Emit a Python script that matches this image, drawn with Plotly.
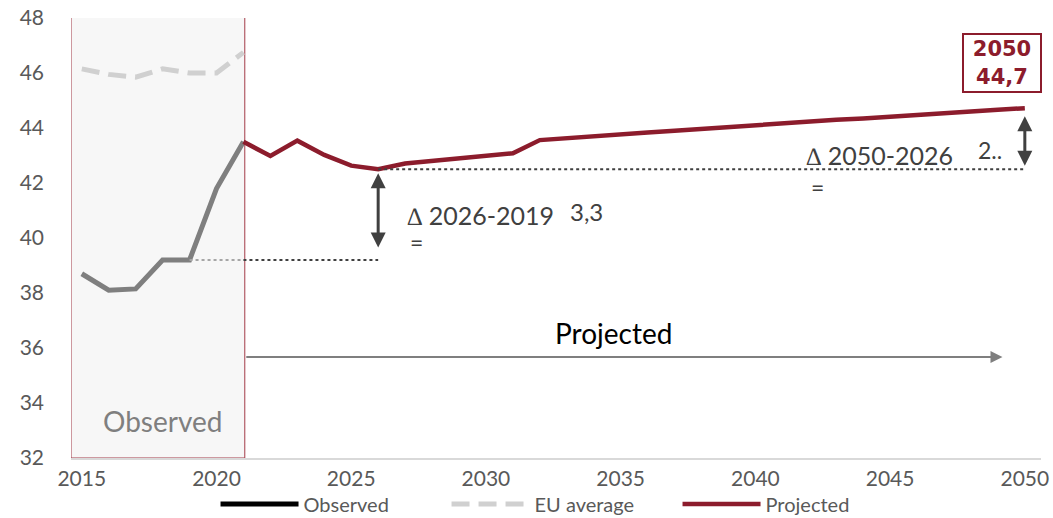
import plotly.graph_objects as go

# ---------------- data ----------------
obs_years = [2015, 2016, 2017, 2018, 2019, 2020, 2021]
obs_values = [38.7, 38.1, 38.15, 39.2, 39.2, 41.8, 43.5]
eu_values = [46.15, 45.95, 45.85, 46.15, 46.0, 46.0, 46.75]

proj_years = list(range(2021, 2051))
proj_values = [43.5, 42.98, 43.54, 43.02, 42.63, 42.5, 42.71, 42.81, 42.9, 42.98,
               43.08, 43.56, 43.64, 43.7, 43.78, 43.84, 43.9, 43.97, 44.05, 44.12,
               44.17, 44.23, 44.3, 44.35, 44.42, 44.5, 44.55, 44.6, 44.66, 44.72]

x_ticks = [2015, 2020, 2025, 2030, 2035, 2040, 2045, 2050]
y_ticks = [32, 34, 36, 38, 40, 42, 44, 46, 48]

delta1_label = "\u2206 2026-2019"
delta1_value = "3,3"
delta2_label = "\u2206 2050-2026"
delta2_value = "2.."
end_label = "<b>2050<br>44,7</b>"

RED = "#8c1c2c"
GREY = "#7f7f7f"
DARK = "#404040"
FONT = "Lato"

fig = go.Figure()

fig.add_trace(go.Scatter(x=obs_years, y=eu_values, mode="lines", name="EU average",
                         line=dict(color="#d0d0d0", width=5, dash="18px,9px")))
fig.add_trace(go.Scatter(x=obs_years, y=obs_values, mode="lines", name="Observed",
                         line=dict(color=GREY, width=5), showlegend=False))
fig.add_trace(go.Scatter(x=proj_years, y=proj_values, mode="lines", name="Projected",
                         line=dict(color=RED, width=4.5)))
# legend entry for observed (black in legend)
fig.add_trace(go.Scatter(x=[None], y=[None], mode="lines", name="Observed",
                         line=dict(color="black", width=5)))

fig.data[3].legendrank = 1
fig.data[0].legendrank = 2
fig.data[2].legendrank = 3

# observed shaded box
fig.add_shape(type="rect", xref="x", yref="y", x0=2014.6, x1=obs_years[-1] + 0.05,
              y0=32, y1=48.15, fillcolor="#f7f7f7", line=dict(color="#a33b48", width=1),
              layer="below")

y2019 = obs_values[obs_years.index(2019)]
y2026 = proj_values[proj_years.index(2026)]
y2050 = proj_values[proj_years.index(2050)]

# dotted reference lines
fig.add_shape(type="line", xref="x", yref="y", x0=2019, x1=2021, y0=y2019, y1=y2019,
              line=dict(color="#a6a6a6", width=2, dash="dot"))
fig.add_shape(type="line", xref="x", yref="y", x0=2021, x1=2026, y0=y2019, y1=y2019,
              line=dict(color=DARK, width=2, dash="dot"))
fig.add_shape(type="line", xref="x", yref="y", x0=2026, x1=2050, y0=y2026, y1=y2026,
              line=dict(color=DARK, width=2, dash="dot"))

# double arrows
for xa, ytop, ybot, so, sso in [(2026, y2026, y2019, 4, 11), (2050, y2050, y2026, 8, 2)]:
    fig.add_annotation(x=xa, y=ytop, ax=xa, ay=ybot, xref="x", yref="y", axref="x", ayref="y",
                       text="", showarrow=True, arrowhead=2, arrowside="end+start",
                       arrowsize=1, arrowwidth=3, arrowcolor=DARK, standoff=so, startstandoff=sso)

# projected arrow
fig.add_annotation(x=2049.17, y=35.67, ax=obs_years[-1] + 0.05, ay=35.67, xref="x", yref="y",
                   axref="x", ayref="y", text="", showarrow=True, arrowhead=2, arrowsize=1.2,
                   arrowwidth=2, arrowcolor=GREY)

def txt(x, y, s, size=20, color=DARK, xanchor="left", family=FONT, **kw):
    fig.add_annotation(x=x, y=y, xref="x", yref="y", text=s, showarrow=False,
                       xanchor=xanchor, yanchor="middle",
                       font=dict(family=family, size=size, color=color), **kw)

txt(2018.0, 33.35, "Observed", size=28, color=GREY, xanchor="center")
txt(2034.74, 36.55, "Projected", size=28, color="black", xanchor="center")
txt(2027.0, 40.84, delta1_label, size=25)
txt(2027.1, 39.85, "=", size=23)
txt(2033.05, 40.95, delta1_value, size=24)
txt(2041.8, 43.02, delta2_label, size=25)
txt(2042.0, 41.85, "=", size=23)
txt(2048.2, 43.2, delta2_value, size=23)

fig.add_annotation(x=2049.14, y=46.36, xref="x", yref="y", text=end_label, showarrow=False,
                   xanchor="center", yanchor="middle", width=74, height=54,
                   font=dict(family="DejaVu Sans", size=21, color=RED),
                   bordercolor=RED, borderwidth=2, borderpad=1, bgcolor="white")

fig.update_layout(
    width=1053, height=518,
    margin=dict(l=71, r=12, t=18, b=60, autoexpand=False),
    plot_bgcolor="white", paper_bgcolor="white",
    font=dict(family=FONT, color="#595959", size=19),
    showlegend=True,
    legend=dict(orientation="h", x=0.149, y=-0.1045, xanchor="left", yanchor="middle",
                font=dict(family=FONT, size=20, color="#595959"), itemwidth=78,
                entrywidth=138, traceorder="normal", bgcolor="rgba(0,0,0,0)"),
)
fig.update_xaxes(range=[2014.6, 2050.6], tickvals=x_ticks, showgrid=False, zeroline=False,
                 showline=True, linecolor="#d9d9d9", linewidth=1.5, ticks="",
                 tickfont=dict(family=FONT, size=21, color="#595959"), ticklabelstandoff=1)
fig.update_yaxes(range=[32, 48], tickvals=y_ticks, showgrid=False, zeroline=False,
                 showline=False, ticks="",
                 tickfont=dict(family=FONT, size=21, color="#595959"), ticklabelstandoff=26)

fig.write_html("out.html", post_script="document.body.style.margin='0';",
               config={"displayModeBar": False})
